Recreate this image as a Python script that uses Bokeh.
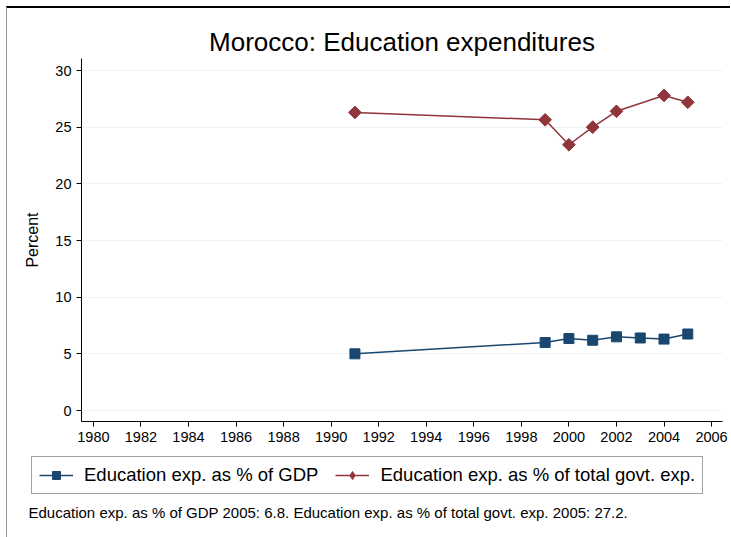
import math
from bokeh.plotting import figure
from bokeh.models import Range1d, Legend, LegendItem, Label, FixedTicker
from bokeh.layouts import column
from bokeh.embed import file_html
from bokeh.resources import INLINE

gdp_years = [1991, 1999, 2000, 2001, 2002, 2003, 2004, 2005]
gdp_vals = [5.0, 6.0, 6.35, 6.2, 6.5, 6.4, 6.3, 6.75]
tot_years = [1991, 1999, 2000, 2001, 2002, 2004, 2005]
tot_vals = [26.3, 25.65, 23.45, 25.0, 26.4, 27.8, 27.2]
x_ticks = list(range(1980, 2007, 2))
y_ticks = [0, 5, 10, 15, 20, 25, 30]
series_labels = ["Education exp. as % of GDP", "Education exp. as % of total govt. exp."]
note_text = "Education exp. as % of GDP 2005: 6.8. Education exp. as % of total govt. exp. 2005: 27.2."

NAVY = "#1a476f"
MAROON = "#90353b"
FONT = "Liberation Sans"

# ---------------- main chart ----------------
p = figure(width=723, height=444, output_backend="svg", toolbar_location=None,
           x_range=Range1d(1979.5, 2006.46), y_range=Range1d(-0.97, 31.06))
p.frame_align = False
p.min_border_left = 74
p.min_border_right = 8
p.min_border_top = 50
p.min_border_bottom = 31
p.outline_line_color = None
p.background_fill_color = "white"
p.border_fill_color = "white"

p.title.text = "Morocco: Education expenditures"
p.title.align = "center"
p.title.text_font = FONT
p.title.text_font_size = "26px"
p.title.text_font_style = "normal"
p.title.text_color = "black"
p.title.standoff = 4

p.xgrid.grid_line_color = None
p.ygrid.grid_line_color = "#eaf2f3"
p.ygrid.grid_line_width = 1

for ax in (p.xaxis[0], p.yaxis[0]):
    ax.axis_line_color = "black"
    ax.major_tick_line_color = "black"
    ax.major_tick_out = 5
    ax.major_tick_in = 0
    ax.minor_tick_line_color = None
    ax.major_label_text_font = FONT
    ax.major_label_text_font_size = "14.5px"
    ax.major_label_text_color = "black"
    ax.major_label_standoff = 5
p.xaxis.ticker = FixedTicker(ticks=x_ticks)
p.yaxis.ticker = FixedTicker(ticks=y_ticks)
p.yaxis.major_label_orientation = "horizontal"
p.yaxis.axis_label = "Percent"
p.yaxis.axis_label_text_font = FONT
p.yaxis.axis_label_text_font_size = "16px"
p.yaxis.axis_label_text_font_style = "normal"
p.yaxis.axis_label_text_color = "black"
p.yaxis.axis_label_standoff = 11

p.line(gdp_years, gdp_vals, line_color=NAVY, line_width=1.5)
p.scatter(gdp_years, gdp_vals, marker="square", size=10, fill_color=NAVY, line_color=NAVY)
p.line(tot_years, tot_vals, line_color=MAROON, line_width=1.5)
p.scatter(tot_years, tot_vals, marker="square", angle=math.pi / 4, size=9,
          fill_color=MAROON, line_color=MAROON)

# ---------------- legend + note strip ----------------
q = figure(width=723, height=85, output_backend="svg", toolbar_location=None,
           x_axis_type=None, y_axis_type=None,
           x_range=Range1d(0, 1), y_range=Range1d(0, 1))
q.frame_align = False
q.min_border_left = 0
q.min_border_right = 0
q.min_border_top = 0
q.min_border_bottom = 0
q.outline_line_color = None
q.xgrid.grid_line_color = None
q.ygrid.grid_line_color = None
q.border_fill_color = "white"

k1 = q.line(gdp_years, gdp_vals, line_color=NAVY, line_width=1.5, visible=False)
m1 = q.scatter(gdp_years, gdp_vals, marker="square", size=10, fill_color=NAVY,
               line_color=NAVY, visible=False)
k2 = q.line(tot_years, tot_vals, line_color=MAROON, line_width=1.5, visible=False)
m2 = q.scatter(tot_years, tot_vals, marker="diamond", size=14, fill_color=MAROON,
               line_color=MAROON, visible=False)

legend = Legend(items=[LegendItem(label=series_labels[0], renderers=[k1, m1]),
                       LegendItem(label=series_labels[1], renderers=[k2, m2])],
                orientation="horizontal", location=(24, 43))
legend.label_text_font = FONT
legend.label_text_font_size = "18.5px"
legend.label_text_color = "black"
legend.border_line_color = "#444444"
legend.border_line_width = 1
legend.glyph_width = 34
legend.label_standoff = 11
legend.spacing = 17
legend.padding = 7
legend.margin = 0
legend.label_height = 20
legend.glyph_height = 20
legend.click_policy = "none"
q.add_layout(legend)

q.add_layout(Label(x=21, y=25, x_units="screen", y_units="screen", text=note_text,
                   text_font=FONT, text_font_size="15px", text_color="black",
                   text_baseline="middle"))

layout = column(p, q, spacing=0)
layout.styles = {"margin-top": "6px", "margin-left": "6px",
                 "border-top": "2px solid black", "border-left": "1px solid #999999"}

open("out.html", "w").write(file_html(layout, INLINE))
